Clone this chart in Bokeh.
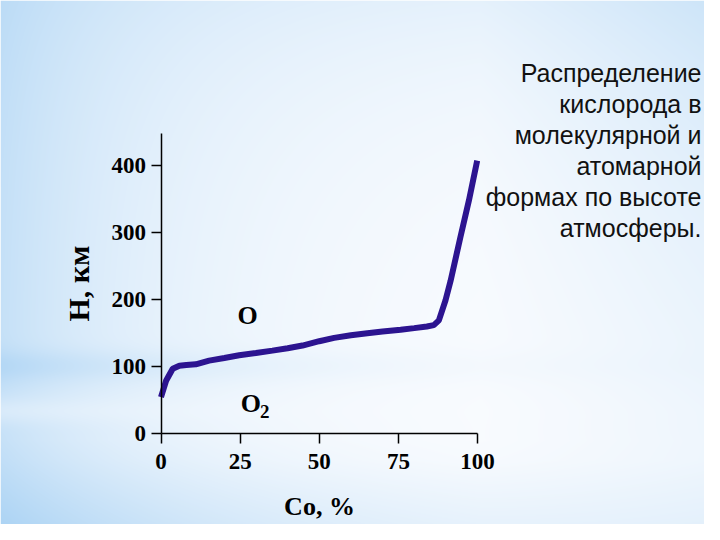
import numpy as np
from bokeh.plotting import figure
from bokeh.models import Range1d, LinearAxis, FixedTicker, Label
from bokeh.core.properties import value
from bokeh.embed import file_html
from bokeh.resources import INLINE

# ---- data ----
co_percent = [0.0, 1.6, 3.7, 5.8, 8.0, 11.0, 15.2, 20.0, 24.7, 30.0, 35.2, 40.0, 44.7,
              50.0, 54.7, 60.0, 65.2, 70.0, 75.7, 80.0, 84.0, 86.2, 87.8, 89.9,
              91.5, 94.6, 97.3, 99.9]
height_km = [54.6, 79.0, 97.0, 101.5, 102.5, 103.5, 109.0, 113.0, 117.0, 120.5, 124.0, 127.5, 131.5,
             138.0, 143.0, 147.0, 150.0, 152.5, 155.0, 157.5, 160.0, 162.0, 169.0, 199.0,
             228.0, 293.0, 348.0, 407.0]
x_ticks = [0, 25, 50, 75, 100]
y_ticks = [0, 100, 200, 300, 400]
x_label = "Co, %"
y_label = "H, км"
species_O = ("O", 27.4, 176.0)
species_O2 = ("O", "2", 28.4, 45.0)
caption_lines = ["Распределение", "кислорода в", "молекулярной и",
                 "атомарной", "формах по высоте", "атмосферы."]

W, H = 704, 524
x0_px, x_scale = 160.5, 3.165
y0_px, y_scale = 433.3, 0.671
xr = Range1d(-x0_px / x_scale, (W - x0_px) / x_scale)
yr = Range1d(-(H - y0_px) / y_scale, y0_px / y_scale)

p = figure(width=W, height=H, x_range=xr, y_range=yr, output_backend="svg",
           toolbar_location=None, x_axis_location=None, y_axis_location=None,
           min_border=0)
p.outline_line_color = None
p.grid.visible = False
p.border_fill_color = "#eaf4fc"

# ---- background gradient (slide style) ----
yy, xx = np.mgrid[0:H, 0:W].astype(float)
gx = xx
gy = yy
comps = [
    0.48 * np.exp(-gx / 170.0),
    0.30 * np.clip((gx - 480) / 240.0, 0, 1) * np.exp(-gy / 450.0),
    0.18 * np.exp(-gy / 120.0),
    0.30 * np.exp(-((gy - 365) / 16.0) ** 2) * np.exp(-gx / 220.0),
    0.40 * np.clip((gy - 440) / 90.0, 0, 1) * np.exp(-gx / 300.0),
    0.12 * np.clip((gy - 460) / 80.0, 0, 1),
]
keep = np.ones_like(gx)
for c in comps:
    keep *= (1 - c)
b = 1 - keep
# light streak under the band
b *= 1 - 0.35 * np.exp(-((gy - 410) / 14.0) ** 2) * np.exp(-gx / 300.0)
white = np.array([252, 253, 255.0])
blue = np.array([140, 195, 240.0])
rgb = white[None, None, :] * (1 - b[..., None]) + blue[None, None, :] * b[..., None]
rgb = np.flipud(rgb).astype(np.uint32)
img = (255 << 24) | (rgb[..., 2] << 16) | (rgb[..., 1] << 8) | rgb[..., 0]
img = img.astype(np.uint32)
p.image_rgba(image=[img], x=xr.start, y=yr.start, dw=xr.end - xr.start, dh=yr.end - yr.start)

serif = "Liberation Serif"

# ---- axes ----
xaxis = LinearAxis(fixed_location=0, bounds=(0, 100), ticker=FixedTicker(ticks=x_ticks),
                   axis_label=x_label)
xaxis.major_tick_out = 10
xaxis.major_tick_in = 0
xaxis.minor_tick_out = 0
xaxis.minor_tick_in = 0
xaxis.major_label_standoff = 10
xaxis.major_label_text_font = serif
xaxis.major_label_text_font_style = "bold"
xaxis.major_label_text_font_size = "23px"
xaxis.major_label_text_color = "black"
xaxis.axis_label_text_font = serif
xaxis.axis_label_text_font_style = "bold"
xaxis.axis_label_text_font_size = "26px"
xaxis.axis_label_text_color = "black"
xaxis.axis_label_standoff = 20
xaxis.axis_line_width = 1.5
xaxis.major_tick_line_width = 1.5
p.add_layout(xaxis, "below")

yaxis = LinearAxis(fixed_location=0, bounds=(0, 448), ticker=FixedTicker(ticks=y_ticks),
                   axis_label=y_label)
yaxis.major_tick_out = 10
yaxis.major_tick_in = 0
yaxis.minor_tick_out = 0
yaxis.minor_tick_in = 0
yaxis.major_label_standoff = 5
yaxis.major_label_text_font = serif
yaxis.major_label_text_font_style = "bold"
yaxis.major_label_text_font_size = "23px"
yaxis.major_label_text_color = "black"
yaxis.axis_label_text_font = serif
yaxis.axis_label_text_font_style = "bold"
yaxis.axis_label_text_font_size = "30px"
yaxis.axis_label_text_color = "black"
yaxis.axis_label_standoff = 14
yaxis.axis_line_width = 1.5
yaxis.major_tick_line_width = 1.5
p.add_layout(yaxis, "left")

# ---- curve ----
p.line(co_percent, height_km, line_width=6, line_color="#2c1490")

# ---- species labels ----
p.text(x=[species_O[1]], y=[species_O[2]], text=[species_O[0]], text_font=value(serif),
       text_font_style="bold", text_font_size="26px", text_align="center",
       text_baseline="middle", text_color="black")
p.text(x=[species_O2[2]], y=[species_O2[3]], text=[species_O2[0]], text_font=value(serif),
       text_font_style="bold", text_font_size="26px", text_align="center",
       text_baseline="middle", text_color="black")
p.text(x=[species_O2[2]], y=[species_O2[3]], text=[species_O2[1]], text_font=value(serif),
       text_font_style="bold", text_font_size="19px", text_align="left",
       text_baseline="middle", text_color="black", x_offset=9, y_offset=8)

# ---- caption ----
for i, line in enumerate(caption_lines):
    p.add_layout(Label(x=701, y=452 - 31 * i, x_units="screen", y_units="screen",
                       text=line, text_align="right", text_baseline="alphabetic",
                       text_font="Liberation Sans", text_font_size="25px",
                       text_color="#111111"))

open("out.html", "w").write(file_html(p, INLINE))
